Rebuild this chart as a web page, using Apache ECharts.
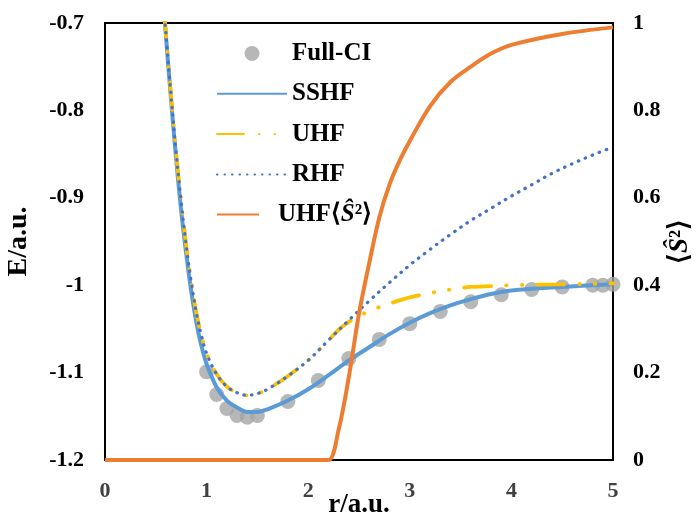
<!DOCTYPE html>
<html>
<head>
<meta charset="utf-8">
<script src="https://cdn.jsdelivr.net/npm/echarts@6/dist/echarts.min.js"></script>
<style>
  body { margin: 0; background: #fff; }
  #chart { width: 699px; height: 516px; }
</style>
</head>
<body>
<div id="chart"></div>
<script>
// Full-CI reference points
const fciR = [1.0, 1.1, 1.2, 1.3, 1.4, 1.5, 1.8, 2.1, 2.4, 2.7, 3.0, 3.3, 3.6, 3.9, 4.2, 4.5, 4.8, 4.9, 5.0]
const fciE = [-1.099, -1.125, -1.141, -1.149, -1.151, -1.149, -1.133, -1.109, -1.084, -1.062, -1.044, -1.030, -1.019, -1.011, -1.005, -1.002, -1.000, -1.000, -0.999]

// SSHF curve
const sshfR = [0.58, 0.6, 0.65, 0.7, 0.75, 0.8, 0.85, 0.9, 0.95, 1.0, 1.1, 1.2, 1.3, 1.4, 1.5, 1.6, 1.8, 2.0, 2.2, 2.4, 2.6, 2.8, 3.0, 3.2, 3.4, 3.6, 3.8, 4.0, 4.5, 5.0]
const sshfE = [-0.685, -0.715, -0.788, -0.855, -0.915, -0.965, -1.008, -1.043, -1.070, -1.090, -1.117, -1.132, -1.140, -1.145, -1.145, -1.142, -1.132, -1.119, -1.103, -1.086, -1.071, -1.056, -1.043, -1.032, -1.023, -1.016, -1.010, -1.006, -1.002, -0.999]

// UHF curve
const uhfR = [0.58, 0.6, 0.65, 0.7, 0.75, 0.8, 0.85, 0.9, 0.95, 1.0, 1.1, 1.2, 1.3, 1.4, 1.5, 1.6, 1.8, 2.0, 2.2, 2.3, 2.4, 2.5, 2.6, 2.7, 2.8, 3.0, 3.2, 3.4, 3.6, 3.8, 4.0, 4.5, 5.0]
const uhfE = [-0.685, -0.713, -0.783, -0.848, -0.905, -0.955, -0.997, -1.032, -1.058, -1.078, -1.102, -1.116, -1.123, -1.126, -1.124, -1.119, -1.104, -1.086, -1.063, -1.051, -1.042, -1.035, -1.030, -1.025, -1.021, -1.014, -1.009, -1.005, -1.002, -1.001, -1.000, -0.999, -0.998]

// RHF curve
const rhfR = [0.58, 0.6, 0.65, 0.7, 0.75, 0.8, 0.85, 0.9, 0.95, 1.0, 1.1, 1.2, 1.3, 1.4, 1.5, 1.6, 1.8, 2.0, 2.2, 2.4, 2.6, 2.8, 3.0, 3.2, 3.4, 3.6, 3.8, 4.0, 4.2, 4.4, 4.6, 4.8, 5.0]
const rhfE = [-0.685, -0.713, -0.783, -0.848, -0.905, -0.955, -0.997, -1.032, -1.058, -1.078, -1.102, -1.116, -1.123, -1.126, -1.124, -1.119, -1.104, -1.086, -1.063, -1.040, -1.018, -0.997, -0.977, -0.959, -0.942, -0.926, -0.912, -0.898, -0.885, -0.872, -0.861, -0.851, -0.842]

// UHF <S^2> (right axis)
const s2R = [0, 2.1, 2.2, 2.3, 2.4, 2.5, 2.6, 2.7, 2.8, 2.9, 3.0, 3.2, 3.4, 3.6, 3.8, 4.0, 4.5, 5.0]
const s2V = [0, 0, 0, 0.07, 0.19, 0.335, 0.45, 0.555, 0.63, 0.685, 0.73, 0.81, 0.865, 0.90, 0.93, 0.95, 0.975, 0.99]

const xTicks = [0, 1, 2, 3, 4, 5]
const eTicks = [-1.2, -1.1, -1, -0.9, -0.8, -0.7]
const sTicks = [0, 0.2, 0.4, 0.6, 0.8, 1]

const zip = (xs, ys) => xs.map((x, i) => [x, ys[i]])
const FONT = 'Liberation Serif'
const NONE = 'rgba(0,0,0,0)'

const chart = echarts.init(document.getElementById('chart'))

const lineBase = {
  type: 'line',
  symbol: 'none',
  smooth: 0.35,
  clip: true
}

const legendText = { fontFamily: FONT, fontWeight: 'bold', fontSize: 25, color: '#000' }

chart.setOption({
  animation: false,
  grid: {
    left: 105, right: 86, top: 23, bottom: 56,
    outerBoundsMode: 'none',
    show: true, borderColor: '#000', borderWidth: 2
  },
  legend: [
    {
      data: ['Full-CI', 'SSHF', 'UHF', 'RHF'],
      orient: 'vertical',
      left: 211, top: 36,
      itemWidth: 70, itemHeight: 15, itemGap: 15.3,
      textStyle: legendText
    },
    {
      data: ['UHF<S2>'],
      left: 211, top: 197,
      itemWidth: 42, itemHeight: 15,
      formatter: () => '{p|}{b|UHF⟨}{i|Ŝ}{b|²⟩}',
      textStyle: Object.assign({}, legendText, {
        rich: {
          p: { width: 14 },
          b: { fontFamily: FONT, fontWeight: 'bold', fontSize: 25 },
          i: { fontFamily: FONT, fontWeight: 'bold', fontStyle: 'italic', fontSize: 25 }
        }
      })
    }
  ],
  xAxis: {
    type: 'value', min: 0, max: 5, interval: 1,
    name: 'r/a.u.', nameLocation: 'middle', nameGap: 32, nameMoveOverlap: false,
    nameTextStyle: { fontFamily: FONT, fontWeight: 'bold', fontSize: 27, color: '#000' },
    axisLine: { show: false },
    axisTick: { show: false },
    splitLine: { show: false },
    axisLabel: {
      margin: 20, fontFamily: FONT, fontWeight: 'bold', fontSize: 22, color: '#404040',
      formatter: (v) => xTicks.includes(v) ? String(v) : ''
    }
  },
  yAxis: [
    {
      type: 'value', min: -1.2, max: -0.7, interval: 0.1,
      name: 'E/a.u.', nameLocation: 'middle', nameGap: 72, nameRotate: 90, nameMoveOverlap: false,
      nameTextStyle: { fontFamily: FONT, fontWeight: 'bold', fontSize: 28, color: '#000' },
      axisLine: { show: false },
      axisTick: { show: false },
      splitLine: { show: false },
      axisLabel: {
        margin: 21, fontFamily: FONT, fontWeight: 'bold', fontSize: 22, color: '#000',
        formatter: (v) => {
          const t = eTicks.find((e) => Math.abs(e - v) < 1e-6)
          return t === undefined ? '' : String(t)
        }
      }
    },
    {
      type: 'value', min: 0, max: 1, interval: 0.2, position: 'right',
      name: '{a|⟨}{s|Ŝ}{a|²⟩}', nameLocation: 'middle', nameGap: 54, nameRotate: 90, nameMoveOverlap: false,
      nameTextStyle: {
        fontFamily: FONT, fontWeight: 'bold', fontSize: 27, color: '#000',
        rich: {
          a: { fontFamily: FONT, fontWeight: 'bold', fontSize: 27 },
          s: { fontFamily: FONT, fontWeight: 'bold', fontStyle: 'italic', fontSize: 27 }
        }
      },
      axisLine: { show: false },
      axisTick: { show: false },
      splitLine: { show: false },
      axisLabel: {
        margin: 20, fontFamily: FONT, fontWeight: 'bold', fontSize: 22, color: '#000',
        formatter: (v) => {
          const t = sTicks.find((e) => Math.abs(e - v) < 1e-6)
          return t === undefined ? '' : String(t)
        }
      }
    }
  ],
  series: [
    {
      name: 'Full-CI', type: 'scatter', symbol: 'circle', symbolSize: 15,
      itemStyle: { color: '#A5A5A5' },
      data: zip(fciR, fciE)
    },
    Object.assign({}, lineBase, {
      name: 'SSHF',
      itemStyle: { color: NONE, borderWidth: 0 },
      lineStyle: { color: '#5B9BD5', width: 4 },
      data: zip(sshfR, sshfE)
    }),
    Object.assign({}, lineBase, {
      name: 'UHF',
      itemStyle: { color: NONE, borderWidth: 0 },
      lineStyle: { color: '#FFC000', width: 3.8, type: [27, 15, 0.5, 15, 0.5, 15], cap: 'round' },
      data: zip(uhfR, uhfE)
    }),
    Object.assign({}, lineBase, {
      name: 'RHF',
      itemStyle: { color: NONE, borderWidth: 0 },
      lineStyle: { color: '#4472C4', width: 3.2, type: [0.5, 7], cap: 'round' },
      data: zip(rhfR, rhfE)
    }),
    Object.assign({}, lineBase, {
      name: 'UHF<S2>',
      yAxisIndex: 1,
      itemStyle: { color: NONE, borderWidth: 0 },
      lineStyle: { color: '#ED7D31', width: 4 },
      data: zip(s2R, s2V)
    })
  ]
})
</script>
</body>
</html>
